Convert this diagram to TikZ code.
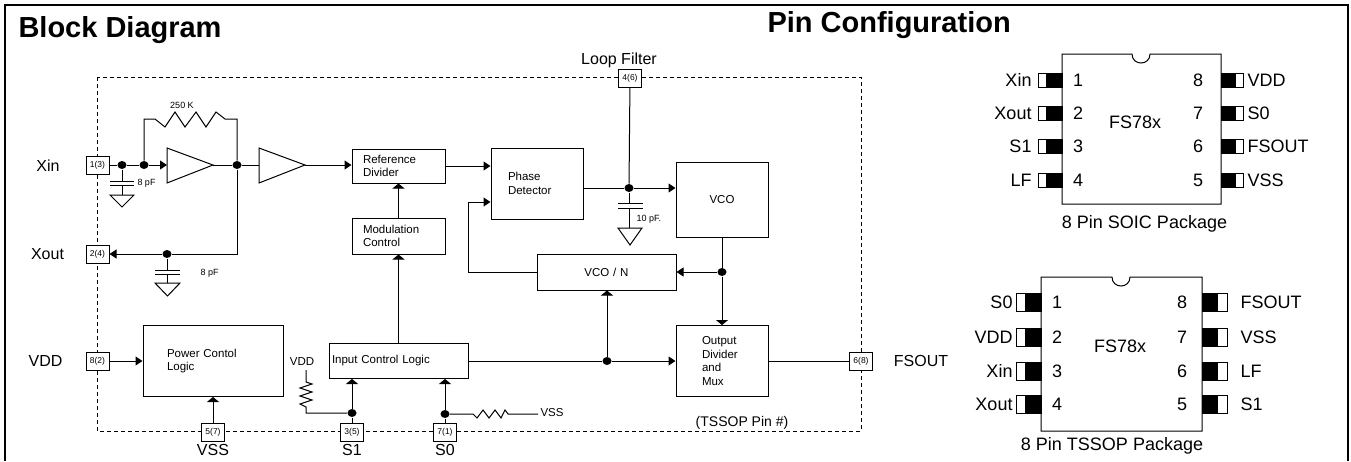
\documentclass[tikz,border=0pt]{standalone}
\usepackage{fontspec}
\setmainfont{Liberation Sans}
\usetikzlibrary{arrows.meta,shapes.geometric}

\newcommand{\titlefont}{\fontsize{29}{32}\selectfont\bfseries}
\newcommand{\blkfont}{\fontsize{11.5}{13.5}\selectfont}
\newcommand{\pinfont}{\fontsize{8.5}{9}\selectfont}
\newcommand{\tinylbl}{\fontsize{9}{10}\selectfont}
\newcommand{\sigfont}{\fontsize{16}{18}\selectfont}
\newcommand{\pkgfont}{\fontsize{18}{20}\selectfont}

\tikzset{
  arr/.style={-{Triangle[length=7pt,width=9pt]}},
  varr/.style={-{Triangle[length=5pt,width=12pt]}},
  dot/.style={ellipse, fill, inner sep=0pt, minimum width=9pt, minimum height=8pt},
  pinbox/.style={draw, fill=white, inner sep=0pt, minimum width=23pt, minimum height=18pt, font=\pinfont},
  blk/.style n args={3}{draw, minimum height=#1, text width=#2, inner xsep=#3, inner ysep=0pt, align=left, font=\blkfont},
  sig/.style={font=\sigfont, inner sep=0pt},
  lbl/.style={font=\tinylbl, inner sep=0pt},
  pkg/.style={font=\pkgfont, inner sep=0pt},
}

\begin{document}
\begin{tikzpicture}[x=1pt, y=-1pt, line width=1pt]
\useasboundingbox (0,0) rectangle (1351,461);
% frame and titles
\draw[line width=2.2pt] (5,461) -- (5,5) -- (1348,5) -- (1348,461);
\node[anchor=base west, inner sep=0pt, font=\titlefont] at (18,37) {Block Diagram};
\node[anchor=base west, inner sep=0pt, font=\titlefont] at (767,32) {Pin Configuration};

% chip outline
\draw[line width=0.7pt, dash pattern=on 4pt off 3pt] (97,77) rectangle (861,431);

% blocks
\node[blk={34}{71}{11}] (refdiv) at (398.5,166) {Reference\\Divider};
\node[blk={36}{71}{11}] (modc) at (398.5,236) {Modulation\\Control};
\node[blk={71}{58}{17}] (phase) at (537,183.5) {Phase\\Detector};
\node[blk={75}{82}{5}, align=center] (vco) at (722,199.5) {VCO};
\node[blk={36}{129}{5}, align=center] (vcon) at (606.5,272) {VCO / N};
\node[blk={71}{40}{26}] (outdiv) at (722,361) {Output\\Divider\\and\\Mux};
\node[blk={35}{133}{3}] (icl) at (398.5,361) {Input Control Logic};
\node[blk={71}{92}{24}] (pcl) at (213,361) {Power Contol\\Logic};

% pins
\node[pinbox] (p1) at (97.5,165) {1(3)};
\node[pinbox] (p2) at (97.5,254) {2(4)};
\node[pinbox] (p8) at (97.5,361) {8(2)};
\node[pinbox] (p5) at (213,432) {5(7)};
\node[pinbox] (p3) at (352,432) {3(5)};
\node[pinbox] (p7) at (445,432) {7(1)};
\node[pinbox] (p4) at (630,78) {4(6)};
\node[pinbox] (p6) at (861,361) {6(8)};

\node[sig] at (48,166) {Xin};
\node[sig] at (47.5,254) {Xout};
\node[sig] at (45.5,361) {VDD};
\node[sig] at (213,450) {VSS};
\node[sig] at (352,450) {S1};
\node[sig] at (445,450) {S0};
\node[sig] at (921,361) {FSOUT};
\node[sig] at (619,60) {Loop Filter};
\node[font=\fontsize{14}{16}\selectfont, inner sep=0pt] at (742,423) {(TSSOP Pin \#)};

% junctions
\node[dot] (d1) at (122,165) {};
\node[dot] (d2) at (144,165) {};
\node[dot] (d3) at (237,165) {};
\node[dot] (d4) at (167,254) {};
\node[dot] (d5) at (629,188) {};
\node[dot] (d6) at (722,272) {};
\node[dot] (d7) at (607,361) {};
\node[dot] (d8) at (352,413) {};
\node[dot] (d9) at (445,414) {};

% crystal amplifiers
\coordinate (a1in) at (167,165);
\coordinate (a1out) at (213,165);
\coordinate (a2in) at (259,165);
\coordinate (a2out) at (305,165);
\draw (167,148) -- (a1out) -- (167,183) -- cycle;
\draw (259,148) -- (a2out) -- (259,183) -- cycle;
\draw (p1) -- (d1) -- (d2);
\draw[arr] (d2) -- (a1in);
\draw (a1out) -- (d3) -- (a2in);
\draw[arr] (a2out) -- (refdiv.west |- a2out);
\draw (d2) -- (144,119) -- (155,119) -- (165,127) -- (175,112) -- (185,127) -- (196,112) -- (206,127) -- (216,112) -- (225,119) -- (237,119) -- (d3);
\node[lbl] at (182,105) {250 K};
\draw (d3) -- (237,254) -- (d4);
\draw[arr] (d4) -- (p2);

% load caps
\draw (d1) -- (122,181);
\draw (110,181) -- (134,181) (110,185) -- (134,185);
\draw (122,185) -- (122,195);
\draw (110,195) -- (134,195) -- (122,207) -- cycle;
\node[lbl, anchor=west] at (137,183) {8 pF};
\draw (d4) -- (167,270);
\draw (155,270) -- (180,270) (155,274) -- (180,274);
\draw (167,274) -- (167,283);
\draw (155,283) -- (180,283) -- (167.5,296) -- cycle;
\node[lbl, anchor=west] at (200,273) {8 pF};

% PLL
\draw[arr] (refdiv.east) -- (refdiv.east -| phase.west);
\draw (d5 -| phase.east) -- (d5);
\draw[arr] (d5) -- (d5 -| vco.west);
\draw (p4) -- (d5);
\draw (d5) -- (629,203);
\draw (618,203) -- (643,203) (618,208) -- (643,208);
\draw (629,208) -- (629,228);
\draw (618,228) -- (642,228) -- (630,245) -- cycle;
\node[lbl, anchor=west] at (636,219) {10 pF.};
\draw (vco.south) -- (d6);
\draw[arr] (d6) -- (vcon.east);
\draw[varr] (d6) -- (outdiv.north);
\draw[arr] (vcon.west) -| (468,202) -- (phase.west |- 0,202);
\draw (icl.east) -- (d7);
\draw[arr] (d7) -- (outdiv.west);
\draw[varr] (d7) -- (d7 |- vcon.south);
\draw (outdiv.east) -- (p6);
\draw[varr] (icl.north) -- (modc.south);
\draw[varr] (modc.north) -- (refdiv.south);

% power and select inputs
\draw[arr] (p8) -- (pcl.west |- p8);
\draw[varr] (p5) -- (pcl.south);
\draw (p3) -- (d8);
\draw[varr] (d8) -- (d8 |- icl.south);
\draw (d8) -- (306,413) -- (306,407) -- (300,404) -- (312,400) -- (300,396) -- (312,392) -- (300,388) -- (312,384) -- (306,382) -- (306,370);
\node[font=\blkfont, inner sep=0pt] at (302,362) {VDD};
\draw (p7) -- (d9);
\draw[varr] (d9) -- (d9 |- icl.south);
\draw (d9) -- (473,414) -- (477,418) -- (483,410) -- (489,418) -- (495,410) -- (501,418) -- (505,410) -- (508,414) -- (538,414);
\node[font=\blkfont, inner sep=0pt, anchor=west] at (540,413) {VSS};

% 8 pin SOIC
\draw (1062,54) -- (1132,54) .. controls (1132,66) and (1150,66) .. (1150,54) -- (1221,54) -- (1221,204) -- (1062,204) -- cycle;
\foreach \y/\l/\n/\r/\m in {80/Xin/1/VDD/8, 113.3/Xout/2/S0/7, 146.7/S1/3/FSOUT/6, 180/LF/4/VSS/5} {
  \draw (1038,\y-7) rectangle (1062,\y+7);
  \fill (1046,\y-7) rectangle (1062,\y+7);
  \draw (1221,\y-7) rectangle (1243,\y+7);
  \fill (1221,\y-7) rectangle (1236,\y+7);
  \node[pkg, anchor=east] at (1032,\y) {\l};
  \node[pkg] at (1078,\y) {\n};
  \node[pkg] at (1198,\y) {\m};
  \node[pkg, anchor=west] at (1247,\y) {\r};
}
\node[pkg] at (1135,122) {FS78x};
\node[pkg, anchor=base] at (1144.5,228) {8 Pin SOIC Package};

% 8 pin TSSOP
\draw (1041,277) -- (1112,277) .. controls (1112,289) and (1130,289) .. (1130,277) -- (1202,277) -- (1202,431) -- (1041,431) -- cycle;
\foreach \y/\l/\n/\r/\m in {302/S0/1/FSOUT/8, 337/VDD/2/VSS/7, 371/Xin/3/LF/6, 404/Xout/4/S1/5} {
  \draw (1016,\y-9) rectangle (1041,\y+9);
  \fill (1025,\y-9) rectangle (1041,\y+9);
  \draw (1202,\y-9) rectangle (1227,\y+9);
  \fill (1202,\y-9) rectangle (1218,\y+9);
  \node[pkg, anchor=east] at (1013,\y) {\l};
  \node[pkg] at (1057,\y) {\n};
  \node[pkg] at (1182,\y) {\m};
  \node[pkg, anchor=west] at (1240,\y) {\r};
}
\node[pkg] at (1120,346) {FS78x};
\node[pkg, anchor=base] at (1112,450) {8 Pin TSSOP Package};
\end{tikzpicture}
\end{document}
